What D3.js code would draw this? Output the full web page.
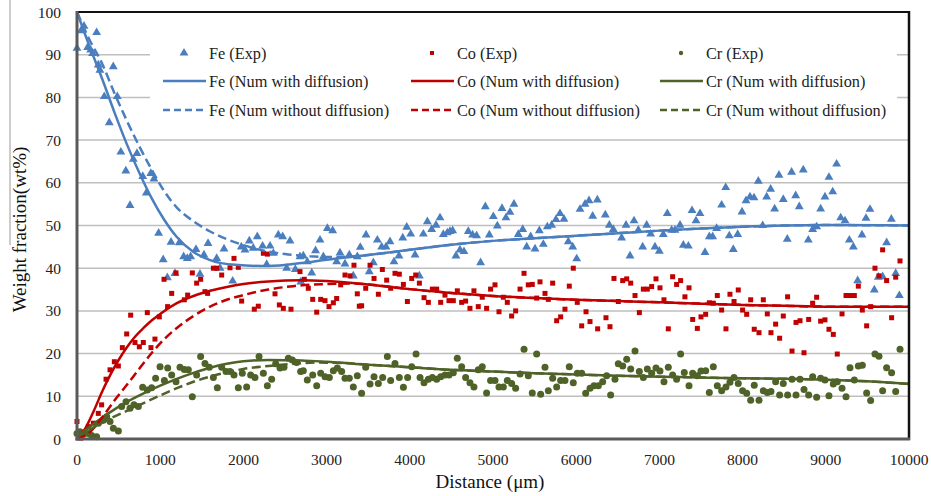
<!DOCTYPE html>
<html>
<head>
<meta charset="utf-8">
<script src="https://cdn.jsdelivr.net/npm/d3@7"></script>
<style>
  body { margin: 0; background: #fff; }
  text { font-family: 'Liberation Serif', 'Times New Roman', serif; }
</style>
</head>
<body>
<script>
/* DATA (distance in um, weight fraction in wt%) */
const xTicks = [0, 1000, 2000, 3000, 4000, 5000, 6000, 7000, 8000, 9000, 10000];
const yTicks = [0, 10, 20, 30, 40, 50, 60, 70, 80, 90, 100];

const feExp = [[0,91.5],[48,95.6],[84,96.7],[128,91.7],[164,91.1],[188,90.3],[236,95.2],[256,87.6],[276,86.4],[328,80.2],
  [388,74.1],[436,87.2],[484,80.2],[527,67.2],[587,62.8],[637,54.7],[677,65.5],[721,66.9],[790,61.5],[833,57.6],[887,62.2],
  [925,60.9],[981,48.2],[1036,42],[1086,37.8],[1130,46.1],[1178,38.8],[1230,46],[1282,42.7],[1326,42.3],[1366,42.7],
  [1430,44.4],[1478,38.6],[1526,43.1],[1575,45.8],[1679,42.3],[1719,40],[1767,44.5],[1871,37],[1975,45],[2019,44.3],
  [2071,46.4],[2119,44.7],[2167,47.4],[2231,45.2],[2280,40.9],[2320,45.2],[2360,43.5],[2420,47.8],[2472,47.4],[2520,40],
  [2560,46.4],[2624,39.7],[2680,42.7],[2690,36.8],[2720,42.9],[2768,41.5],[2821,38.9],[2867,44.1],[2921,46.6],[2961,42.7],
  [3009,49.3],[3073,48.8],[3121,41.5],[3161,43.6],[3221,41],[3273,43.1],[3321,38.2],[3369,42.7],[3405,44.9],[3474,47.8],
  [3513,39.2],[3562,41.3],[3610,46.6],[3662,45],[3714,45],[3762,46.2],[3810,41.5],[3870,42.9],[3915,47.1],[3963,49.6],
  [4011,48],[4063,43.1],[4115,38.2],[4163,48],[4211,50.9],[4263,49.1],[4315,50.1],[4363,51.8],[4403,47.9],[4451,48.3],
  [4483,48.6],[4515,48.8],[4555,42.9],[4603,44.3],[4651,43.9],[4703,48.6],[4755,47.8],[4803,47.6],[4851,41.3],[4908,54.4],
  [4956,47.8],[5004,52.1],[5052,49.9],[5108,54],[5156,51.8],[5204,53.1],[5252,55],[5304,47.9],[5357,49.1],[5405,45],
  [5453,47.4],[5505,44.5],[5557,48.8],[5605,45.6],[5653,49.7],[5705,50.1],[5757,51.4],[5805,52.8],[5853,51.5],[5905,46.2],
  [5958,45],[6006,42.2],[6046,53.8],[6106,55],[6154,55.8],[6198,52.2],[6254,56],[6350,52.5],[6398,50.1],[6446,49.1],
  [6546,47.1],[6599,50.1],[6647,42.9],[6695,51.1],[6747,48.9],[6799,45],[6847,50.1],[6895,48],[6947,45],[6999,44],
  [7047,47.9],[7095,52.8],[7147,48.9],[7187,48.9],[7248,50.1],[7288,45.4],[7348,45.2],[7392,53.5],[7440,51.1],[7488,52.8],
  [7548,43.7],[7600,47.4],[7640,47.4],[7688,49.3],[7748,54.8],[7797,58.9],[7840,47.6],[7888,44.4],[7941,47.9],[7993,53.2],
  [8041,55.8],[8089,56.7],[8137,56.5],[8189,60.4],[8241,50],[8289,56.7],[8337,58.5],[8385,53.9],[8437,61.8],[8489,56.1],
  [8537,46.8],[8589,62.5],[8638,57],[8681,54.4],[8729,63],[8790,46.6],[8842,49.1],[8890,49.7],[8938,53.9],[8990,56.7],
  [9038,61.3],[9083,57.9],[9130,64.4],[9179,51.8],[9231,51.1],[9283,46.6],[9331,45],[9383,37.1],[9435,47.8],[9483,51.7],
  [9531,53.8],[9583,34.9],[9631,37.9],[9683,38],[9731,46],[9788,51.5],[9840,38.8],[9884,33.6]];

const coExp = [[0,4.1],[44,0.2],[136,2.9],[196,3.7],[256,6],[296,8],[349,14],[397,16.2],[449,18.1],[497,17.1],[545,21.4],
  [597,24.6],[645,29],[697,22.6],[749,21.6],[797,22.6],[845,29.6],[889,21.4],[937,23.4],[989,28.6],[1046,37.4],[1089,31],
  [1138,34.1],[1190,38.9],[1290,32.6],[1330,33.7],[1386,38.9],[1438,36.5],[1486,37.4],[1538,34.5],[1570,34.1],[1639,40],
  [1679,40],[1739,38.4],[1839,40.1],[1887,42.3],[1939,40.2],[1979,32.3],[2131,30.4],[2179,31.1],[2240,43.5],[2288,43.3],
  [2380,34],[2432,31.4],[2480,30.6],[2572,30.4],[2680,39.2],[2732,37.4],[2780,35.3],[2833,32.7],[2881,29.7],[2929,32.7],
  [2981,32.4],[3029,31],[3081,31.9],[3121,32.9],[3169,36.1],[3221,38.4],[3281,38.2],[3329,40.7],[3369,34],[3393,31.1],
  [3421,31.2],[3470,35.3],[3522,40.7],[3570,37.6],[3622,33.9],[3670,39.7],[3722,37.2],[3770,35.3],[3822,38.8],[3874,38.6],
  [3923,36.2],[3971,32.2],[4023,37.6],[4071,38.4],[4115,36.5],[4171,33.1],[4223,32],[4271,35.1],[4323,35.1],[4371,32],
  [4423,33.7],[4471,32.4],[4523,32.4],[4571,34.7],[4623,32],[4671,32.3],[4723,30.6],[4771,34.7],[4823,31],[4871,33.2],
  [4923,30.6],[4971,35.1],[5024,36.1],[5072,29.8],[5124,33.2],[5172,32],[5224,28.8],[5272,30],[5325,35.1],[5373,38.8],
  [5424,36.1],[5472,36.2],[5525,33],[5565,36.8],[5625,34.1],[5665,32.7],[5717,36.5],[5765,27.7],[5813,28.6],[5865,30.4],
  [5917,35.8],[5965,40],[6013,32],[6066,26.5],[6118,29.8],[6166,27.5],[6258,25.8],[6358,28.4],[6406,26.3],[6454,37.6],
  [6506,32.2],[6559,37.1],[6607,37.5],[6655,36.5],[6707,33.6],[6759,29.6],[6807,35.1],[6855,35.1],[6907,35.7],[6959,37.5],
  [7007,35.4],[7055,32.6],[7107,25.8],[7159,38],[7207,36.2],[7255,37.1],[7307,33.3],[7356,35.4],[7400,28],[7456,25.9],
  [7500,28.6],[7556,29.2],[7600,31.9],[7648,31.8],[7696,33.6],[7748,30.2],[7800,25.8],[7848,33.9],[7897,32.2],[7948,34.9],
  [8000,30.2],[8049,29.2],[8097,32.6],[8140,25.7],[8197,24.9],[8249,32.6],[8297,29.3],[8341,24.9],[8397,26.9],[8445,23.6],
  [8489,28.8],[8541,33.3],[8594,20.6],[8642,27.3],[8690,27.7],[8738,20.2],[8794,28],[8842,31.8],[8890,33.2],[8938,27.6],
  [8990,27.9],[9038,25.7],[9090,24.5],[9138,19.9],[9195,29.3],[9243,33.6],[9291,33.6],[9343,33.6],[9391,35.8],[9439,30.2],
  [9491,26.5],[9539,31],[9591,40],[9639,38.2],[9683,44.3],[9731,37.1],[9791,28.4],[9840,37.9],[9892,41.7]];

const crExp = [[0,1.3],[36,1.7],[76,1.2],[136,1.3],[176,0.8],[236,0.5],[256,3.7],[316,4.4],[357,5.2],[397,4.1],[437,2.5],
  [497,1.9],[537,7.6],[589,8.7],[637,7.2],[685,8],[737,7.6],[789,12.1],[845,11.5],[897,12],[945,14.2],[998,16.9],[1050,13.7],
  [1090,16.6],[1138,15],[1190,13.4],[1238,16.8],[1290,16.3],[1338,16.2],[1386,9.9],[1438,15],[1486,19.3],[1538,17.7],
  [1590,16.8],[1639,14.4],[1687,12],[1739,16.8],[1791,15.8],[1839,15.8],[1887,15],[1939,12],[1987,15.4],[2039,12.2],
  [2087,15],[2139,14.4],[2188,19.3],[2240,15.4],[2288,12.5],[2340,14],[2388,17.6],[2440,16.6],[2488,16.8],[2540,18.9],
  [2588,18.5],[2640,17.9],[2688,15.8],[2720,16],[2768,13.8],[2833,15],[2881,12.5],[2929,15.4],[2981,14.6],[3033,14.4],
  [3081,16],[3129,16.6],[3181,15.8],[3221,14.2],[3273,14.2],[3321,12.2],[3369,14.8],[3421,10.7],[3470,16.8],[3522,12.9],
  [3570,14.6],[3622,13],[3674,14.4],[3730,19.3],[3770,13.7],[3822,17.7],[3874,14.4],[3923,12.1],[3974,14.4],[4023,16.9],
  [4075,19.9],[4123,14.4],[4171,13.2],[4223,14],[4271,14.4],[4323,14],[4371,14.6],[4423,15],[4471,15],[4523,15.5],
  [4571,18.9],[4623,16.9],[4671,14.4],[4723,13.2],[4771,12.2],[4823,16.2],[4871,16.9],[4923,10.8],[4971,13.7],[5024,13.7],
  [5072,12.2],[5124,12.2],[5172,13.7],[5224,13],[5272,11.9],[5325,15.2],[5373,21],[5424,14.8],[5472,10.8],[5525,19.9],
  [5573,10.5],[5625,16.8],[5665,11.3],[5717,14.2],[5765,12.2],[5813,13.7],[5865,13.7],[5917,16.9],[5965,13.2],[6013,15.4],
  [6066,15.4],[6114,10.7],[6166,11.9],[6214,12.5],[6266,12.5],[6318,13.4],[6366,14.8],[6414,10.3],[6466,14],[6506,17.6],
  [6559,17.1],[6607,18.7],[6655,16.4],[6707,20.6],[6759,15.8],[6807,14.4],[6855,16.4],[6907,15.4],[6959,16.6],[7007,15.9],
  [7055,13.4],[7107,16.8],[7159,15],[7207,14],[7255,19.9],[7299,15.6],[7356,12.5],[7400,15.4],[7456,14.8],[7500,15.9],
  [7556,16],[7600,10.9],[7648,16.9],[7696,12.5],[7748,11.3],[7800,12.2],[7848,13.3],[7897,14.4],[7948,13],[8000,11.3],
  [8049,10.7],[8097,9.1],[8140,12.6],[8197,9.1],[8249,11.3],[8297,10.9],[8341,11.1],[8397,13.4],[8445,10.3],[8489,13],
  [8541,10.3],[8594,14],[8642,10.3],[8690,14],[8738,11.6],[8794,10.3],[8842,14.6],[8890,9.8],[8938,14.2],[8990,13.8],
  [9038,10.1],[9090,12.9],[9138,13.4],[9195,11.9],[9243,9.9],[9291,16.7],[9343,13.8],[9391,17.1],[9439,17.3],[9491,10.8],
  [9539,9],[9591,19.9],[9639,19.4],[9683,11.3],[9731,16.7],[9791,15.5],[9840,11.1],[9892,21]];

// numerical curves
const feWith = [[0,100],[150,92],[300,84.5],[450,76.5],[600,69],[750,62.3],[900,56.3],[1050,51.3],[1200,47.3],[1400,43.8],
  [1600,41.9],[1900,40.8],[2300,40.5],[2700,41.2],[3000,42],[3500,43.1],[4000,44.3],[4500,45.5],[5000,46.4],[5500,47],
  [6000,47.6],[6500,48.2],[7000,48.8],[7500,49.3],[8000,49.7],[8500,50],[9000,50.1],[10000,50]];
const feWithout = [[0,100],[150,93.5],[300,88],[450,81],[600,74.5],[750,68.5],[900,63],[1050,58],[1200,54.2],[1400,51],
  [1600,48.6],[1800,46.8],[2000,45.4],[2200,44.3],[2500,43.3],[2800,42.8],[3100,42.6],[3500,43.1],[4000,44.3],[4500,45.5],
  [5000,46.4],[5500,47],[6000,47.6],[6500,48.2],[7000,48.8],[7500,49.3],[8000,49.7],[8500,50],[9000,50.1],[10000,50]];
const coWith = [[0,0],[100,2.5],[200,6.5],[300,11],[400,15],[500,18.5],[600,21.5],[700,24],[800,26],[900,27.8],[1000,29.3],
  [1200,31.8],[1400,33.5],[1600,34.7],[1800,35.6],[2000,36.3],[2300,36.9],[2700,37.2],[3000,37],[3500,36.2],[4000,35.1],
  [4500,34.2],[5000,33.5],[5500,33],[6000,32.6],[6500,32.3],[7000,32],[7500,31.7],[8000,31.4],[8500,31.2],[9000,31],[10000,31]];
const coWithout = [[0,0],[150,1.5],[300,5],[450,9],[600,12.7],[750,16.5],[900,20.2],[1050,23.4],[1200,26],[1400,28.8],
  [1600,31],[1800,32.6],[2000,33.7],[2300,35],[2600,35.8],[3000,36.3],[3300,36.4],[3500,36.2],[4000,35.1],[4500,34.2],
  [5000,33.5],[5500,33],[6000,32.6],[6500,32.3],[7000,32],[7500,31.7],[8000,31.4],[8500,31.2],[9000,31],[10000,31]];
const crWith = [[0,0.5],[200,3.5],[400,6.3],[600,8.7],[800,10.7],[1000,12.5],[1200,14.1],[1400,15.5],[1600,16.7],[1800,17.6],
  [2000,18.2],[2300,18.5],[2700,18.4],[3000,18.1],[3500,17.4],[4000,16.8],[4500,16.2],[5000,15.8],[5500,15.4],[6000,15.1],
  [6500,14.8],[7000,14.6],[7500,14.4],[8000,14.2],[8500,14.1],[9000,13.9],[9500,13.5],[10000,12.9]];
const crWithout = [[0,0.5],[200,2.7],[400,4.8],[600,6.6],[800,8.4],[1000,10.2],[1200,11.9],[1400,13.4],[1600,14.6],
  [1800,15.6],[2000,16.4],[2300,17.1],[2600,17.6],[2900,17.9],[3200,17.8],[3500,17.4],[4000,16.8],[4500,16.2],[5000,15.8],
  [5500,15.4],[6000,15.1],[6500,14.8],[7000,14.6],[7500,14.4],[8000,14.2],[8500,14.1],[9000,13.9],[9500,13.5],[10000,12.9]];

const legendLabels = [
  ['Fe (Exp)', 'Co (Exp)', 'Cr (Exp)'],
  ['Fe (Num with diffusion)', 'Co (Num with diffusion)', 'Cr (Num with diffusion)'],
  ['Fe (Num without diffusion)', 'Co (Num without diffusion)', 'Cr (Num without diffusion)']
];

/* STYLE */
const feColor = '#4a7ebf';
const coColor = '#c00000';
const crColor = '#4f6228';
const colors = [feColor, coColor, crColor];

const width = 931, height = 496;
const plotLeft = 77, plotRight = 909, plotTop = 12, plotBottom = 439;

const x = d3.scaleLinear().domain([0, 10000]).range([plotLeft, plotRight]);
const y = d3.scaleLinear().domain([0, 100]).range([plotBottom, plotTop]);

const svg = d3.select('body').append('svg')
    .attr('width', width)
    .attr('height', height);

svg.append('rect').attr('width', width).attr('height', height).attr('fill', '#fff');

// stray edge line on the left of the picture
svg.append('line')
    .attr('x1', 10).attr('x2', 10).attr('y1', 0).attr('y2', 245)
    .attr('stroke', '#9a9a9a').attr('stroke-width', 1);

// gridlines
svg.append('g').selectAll('line')
    .data(yTicks.filter(d => d > 0 && d < 100))
    .join('line')
    .attr('x1', plotLeft).attr('x2', plotRight)
    .attr('y1', d => y(d)).attr('y2', d => y(d))
    .attr('stroke', '#bfbfbf').attr('stroke-width', 1.5);

// legend background hides gridlines behind it
svg.append('rect')
    .attr('x', 150).attr('y', plotTop + 2)
    .attr('width', 747).attr('height', 112)
    .attr('fill', '#fff');

// tick labels
svg.append('g').selectAll('text')
    .data(yTicks)
    .join('text')
    .attr('x', 61).attr('y', d => y(d) + 5.5)
    .attr('text-anchor', 'end')
    .style('font-size', '15.5px')
    .attr('fill', '#222')
    .text(d => d);

svg.append('g').selectAll('text')
    .data(xTicks)
    .join('text')
    .attr('x', d => x(d)).attr('y', 465)
    .attr('text-anchor', 'middle')
    .style('font-size', '15.5px')
    .attr('fill', '#222')
    .text(d => d);

// axis titles
svg.append('text')
    .attr('x', (plotLeft + plotRight) / 2 - 3).attr('y', 488)
    .attr('text-anchor', 'middle')
    .style('font-size', '19px')
    .attr('fill', '#111')
    .text('Distance (μm)');

svg.append('text')
    .attr('transform', `translate(26, ${(plotTop + plotBottom) / 2 + 4}) rotate(-90)`)
    .attr('text-anchor', 'middle')
    .style('font-size', '19px')
    .attr('fill', '#111')
    .text('Weight fraction(wt%)');

/* SCATTER */
const triangle = d3.symbol().type(d3.symbolTriangle).size(34);

svg.append('g').selectAll('path')
    .data(feExp)
    .join('path')
    .attr('transform', d => `translate(${x(d[0])}, ${y(d[1])})`)
    .attr('d', triangle())
    .attr('fill', feColor);

svg.append('g').selectAll('rect')
    .data(coExp)
    .join('rect')
    .attr('x', d => x(d[0]) - 2.5).attr('y', d => y(d[1]) - 2.5)
    .attr('width', 5).attr('height', 5)
    .attr('fill', coColor);

svg.append('g').selectAll('circle')
    .data(crExp)
    .join('circle')
    .attr('cx', d => x(d[0])).attr('cy', d => y(d[1]))
    .attr('r', 3.5)
    .attr('fill', crColor);

/* NUMERICAL LINES */
const line = d3.line()
    .x(d => x(d[0]))
    .y(d => y(d[1]))
    .curve(d3.curveMonotoneX);

const lines = [
  [feWith, feColor, null], [coWith, coColor, null], [crWith, crColor, null],
  [feWithout, feColor, '9,4.5'], [coWithout, coColor, '9,4.5'], [crWithout, crColor, '9,4.5']
];

svg.append('g').selectAll('path')
    .data(lines)
    .join('path')
    .attr('d', d => line(d[0]))
    .attr('fill', 'none')
    .attr('stroke', d => d[1])
    .attr('stroke-width', 2.5)
    .attr('stroke-dasharray', d => d[2]);

/* PLOT FRAME */
svg.append('line').attr('x1', plotLeft).attr('x2', plotRight).attr('y1', plotTop).attr('y2', plotTop)
    .attr('stroke', '#111').attr('stroke-width', 2);
svg.append('line').attr('x1', plotRight).attr('x2', plotRight).attr('y1', plotTop - 1).attr('y2', plotBottom + 1)
    .attr('stroke', '#111').attr('stroke-width', 2.5);
svg.append('line').attr('x1', plotLeft).attr('x2', plotLeft).attr('y1', plotTop - 1).attr('y2', plotBottom + 1.5)
    .attr('stroke', '#5a5a5a').attr('stroke-width', 3);
svg.append('line').attr('x1', plotLeft - 1.5).attr('x2', plotRight + 1).attr('y1', plotBottom).attr('y2', plotBottom)
    .attr('stroke', '#5a5a5a').attr('stroke-width', 3);

/* LEGEND */
const colX = [163, 411, 660];
const rowY = [53, 81, 110];
const legend = svg.append('g');

colors.forEach((c, i) => {
  const lx = colX[i];
  // exp marker
  if (i === 0) {
    legend.append('path')
        .attr('transform', `translate(${lx + 21}, ${rowY[0]})`)
        .attr('d', triangle())
        .attr('fill', c);
  } else if (i === 1) {
    legend.append('rect')
        .attr('x', lx + 19).attr('y', rowY[0] - 2)
        .attr('width', 4).attr('height', 4)
        .attr('fill', c);
  } else {
    legend.append('circle')
        .attr('cx', lx + 21).attr('cy', rowY[0])
        .attr('r', 2.2)
        .attr('fill', c);
  }
  [null, '7,4'].forEach((dash, j) => {
    legend.append('line')
        .attr('x1', lx).attr('x2', lx + 43)
        .attr('y1', rowY[j + 1]).attr('y2', rowY[j + 1])
        .attr('stroke', c)
        .attr('stroke-width', 2.5)
        .attr('stroke-dasharray', dash);
  });
  legendLabels.forEach((row, r) => {
    legend.append('text')
        .attr('x', lx + 46).attr('y', rowY[r] + 5.5)
        .style('font-size', '16.3px')
        .attr('fill', '#222')
        .text(row[i]);
  });
});
</script>
</body>
</html>
